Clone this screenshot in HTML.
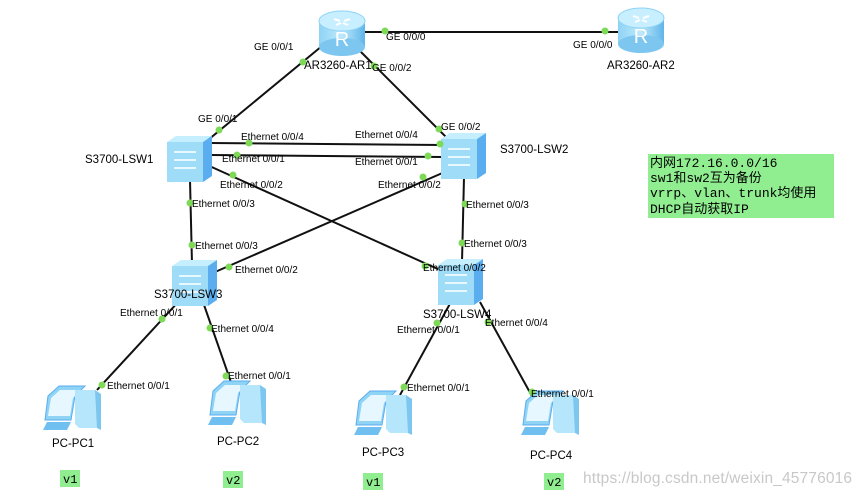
<!DOCTYPE html>
<html><head><meta charset="utf-8"><style>
html,body{margin:0;padding:0;background:#fff;}
svg{display:block;font-family:"Liberation Sans",sans-serif;}
.l{font-size:10px;fill:#000;}
.n{font-size:11.5px;fill:#000;}
</style></head><body>
<svg width="862" height="495" viewBox="0 0 862 495" xmlns="http://www.w3.org/2000/svg">
<defs>
<linearGradient id="rg" x1="0" x2="1"><stop offset="0" stop-color="#8fd3f5"/><stop offset="0.5" stop-color="#bde9fb"/><stop offset="1" stop-color="#5fb5ea"/></linearGradient>
<g id="router">
<rect x="-23" y="-12" width="46" height="26" fill="url(#rg)"/>
<ellipse cx="0" cy="14" rx="23" ry="9" fill="#7cc6f0"/>
<ellipse cx="0" cy="-12" rx="23" ry="10" fill="#c8efff" stroke="#8fd3f5"/>
<path d="M-8,-14 l6,2 M8,-14 l-6,2 M-6,-8 l5,-2 M6,-8 l-5,-2" stroke="#fff" stroke-width="2"/>
<text x="0" y="13" text-anchor="middle" font-size="20" fill="#fff" font-family="Liberation Sans">R</text>
</g>
<g id="sw">
<polygon points="-21,-18 -12,-24 24,-24 15,-18" fill="#c5efff"/>
<polygon points="15,-18 24,-24 24,16 15,22" fill="#5aaef0"/>
<rect x="-21" y="-18" width="36" height="40" fill="#9fdcf7"/>
<path d="M-14,-8 h22 M-14,0 h22 M-14,8 h22" stroke="#e8f8ff" stroke-width="2"/>
</g>
<g id="pc">
<polygon points="-27,-14 -16,-24 10,-24 0,-14 -4,10 -30,10" fill="#8fd3f5" stroke="#5aaef0"/>
<polygon points="-24,-12 -15,-20 6,-20 -2,-12 -5,6 -27,6" fill="#e6f7ff"/>
<polygon points="0,-20 20,-20 22,-16 22,18 4,18 0,14" fill="#b5e6fb"/>
<polygon points="20,-20 26,-16 26,20 22,18" fill="#7cc6f0"/>
<polygon points="-28,12 -4,12 -8,20 -32,20" fill="#6fbff0"/>
</g>
</defs>
<g stroke="#111" stroke-width="2" fill="none">
<line x1="365" y1="32" x2="620" y2="32"/>
<line x1="322" y1="46" x2="208" y2="140"/>
<line x1="355" y1="46" x2="447" y2="138"/>
<line x1="210" y1="143" x2="443" y2="145"/>
<line x1="210" y1="155" x2="443" y2="157"/>
<line x1="205" y1="164" x2="440" y2="270"/>
<line x1="447" y1="171" x2="215" y2="272"/>
<line x1="190" y1="180" x2="192" y2="264"/>
<line x1="464" y1="177" x2="462" y2="262"/>
<line x1="180" y1="300" x2="97" y2="390"/>
<line x1="203" y1="302" x2="233" y2="388"/>
<line x1="452" y1="300" x2="400" y2="395"/>
<line x1="480" y1="302" x2="533" y2="398"/>
</g>
<use href="#router" x="342" y="33"/>
<use href="#router" x="641" y="30"/>
<use href="#sw" x="188" y="160"/>
<use href="#sw" x="462" y="157"/>
<use href="#sw" x="193" y="284"/>
<use href="#sw" x="459" y="283"/>
<use href="#pc" x="75" y="410"/>
<use href="#pc" x="240" y="405"/>
<use href="#pc" x="386" y="415"/>
<use href="#pc" x="553" y="415"/>
<g fill="#7ed957">
<circle cx="385" cy="31" r="3.5"/><circle cx="605" cy="31" r="3.5"/>
<circle cx="303" cy="62" r="3.5"/><circle cx="219" cy="130" r="3.5"/>
<circle cx="374" cy="66" r="3.5"/><circle cx="439" cy="129" r="3.5"/>
<circle cx="249" cy="143" r="3.5"/><circle cx="440" cy="144" r="3.5"/>
<circle cx="237" cy="155" r="3.5"/><circle cx="428" cy="156" r="3.5"/>
<circle cx="233" cy="175" r="3.5"/><circle cx="425" cy="266" r="3.5"/>
<circle cx="423" cy="177" r="3.5"/><circle cx="229" cy="267" r="3.5"/>
<circle cx="190" cy="203" r="3.5"/><circle cx="192" cy="245" r="3.5"/>
<circle cx="465" cy="204" r="3.5"/><circle cx="462" cy="243" r="3.5"/>
<circle cx="162" cy="319" r="3.5"/><circle cx="102" cy="385" r="3.5"/>
<circle cx="210" cy="328" r="3.5"/><circle cx="226" cy="376" r="3.5"/>
<circle cx="437" cy="323" r="3.5"/><circle cx="404" cy="387" r="3.5"/>
<circle cx="488" cy="322" r="3.5"/><circle cx="532" cy="392" r="3.5"/>
</g>
<g class="l">
<text x="386" y="40">GE 0/0/0</text>
<text x="573" y="48">GE 0/0/0</text>
<text x="254" y="50">GE 0/0/1</text>
<text x="372" y="71">GE 0/0/2</text>
<text x="198" y="122">GE 0/0/1</text>
<text x="441" y="130">GE 0/0/2</text>
<text x="241" y="140">Ethernet 0/0/4</text>
<text x="355" y="138">Ethernet 0/0/4</text>
<text x="222" y="162">Ethernet 0/0/1</text>
<text x="355" y="165">Ethernet 0/0/1</text>
<text x="220" y="188">Ethernet 0/0/2</text>
<text x="378" y="188">Ethernet 0/0/2</text>
<text x="192" y="207">Ethernet 0/0/3</text>
<text x="466" y="208">Ethernet 0/0/3</text>
<text x="195" y="249">Ethernet 0/0/3</text>
<text x="464" y="247">Ethernet 0/0/3</text>
<text x="235" y="273">Ethernet 0/0/2</text>
<text x="423" y="271">Ethernet 0/0/2</text>
<text x="120" y="316">Ethernet 0/0/1</text>
<text x="211" y="332">Ethernet 0/0/4</text>
<text x="397" y="333">Ethernet 0/0/1</text>
<text x="485" y="326">Ethernet 0/0/4</text>
<text x="107" y="389">Ethernet 0/0/1</text>
<text x="228" y="379">Ethernet 0/0/1</text>
<text x="407" y="391">Ethernet 0/0/1</text>
<text x="531" y="397">Ethernet 0/0/1</text>
</g>
<g class="n">
<text x="304" y="69">AR3260-AR1</text>
<text x="607" y="69">AR3260-AR2</text>
<text x="85" y="163">S3700-LSW1</text>
<text x="500" y="153">S3700-LSW2</text>
<text x="154" y="298">S3700-LSW3</text>
<text x="423" y="318">S3700-LSW4</text>
<text x="52" y="447">PC-PC1</text>
<text x="217" y="445">PC-PC2</text>
<text x="362" y="456">PC-PC3</text>
<text x="530" y="459">PC-PC4</text>
</g>
<rect x="648" y="154" width="186" height="64" fill="#90ee90"/>
<g font-size="13" font-family="'Liberation Mono','Noto Sans CJK SC',monospace" fill="#000">
<text x="650" y="167">内网172.16.0.0/16</text>
<text x="650" y="182">sw1和sw2互为备份</text>
<text x="650" y="197">vrrp、vlan、trunk均使用</text>
<text x="650" y="213">DHCP自动获取IP</text>
</g>
<g fill="#90ee90"><rect x="60" y="470" width="20" height="17"/><rect x="223" y="471" width="20" height="17"/><rect x="363" y="473" width="20" height="17"/><rect x="544" y="473" width="20" height="17"/></g>
<g font-size="12" font-family="'Liberation Mono',monospace" fill="#000">
<text x="63" y="483">v1</text><text x="226" y="484">v2</text><text x="366" y="486">v1</text><text x="547" y="486">v2</text>
</g>
<text x="583" y="483" font-size="15.5" fill="#c8c8c8" textLength="269">https://blog.csdn.net/weixin_45776016</text>
</svg>
</body></html>
